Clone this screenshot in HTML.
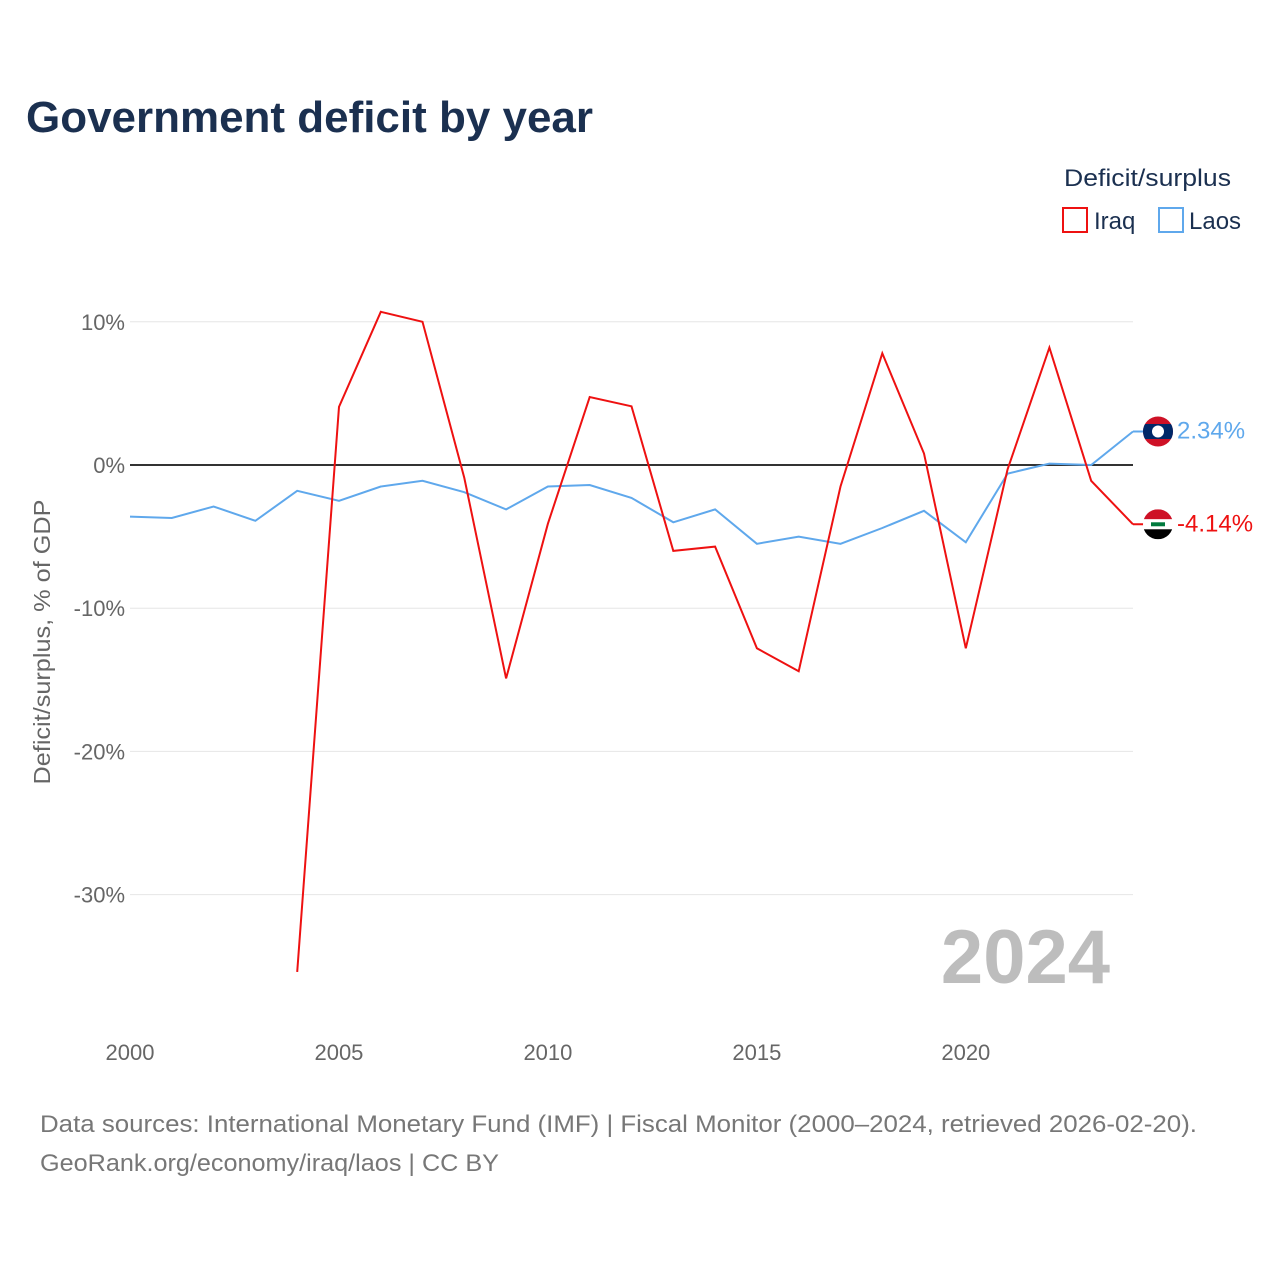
<!DOCTYPE html>
<html><head><meta charset="utf-8"><style>
html,body{margin:0;padding:0;background:#fff;width:1280px;height:1280px;overflow:hidden}
svg text{font-family:"Liberation Sans",sans-serif}
</style></head><body>
<svg width="1280" height="1280">
<text x="26" y="132" font-size="44" font-weight="bold" fill="#1b3050" textLength="567" lengthAdjust="spacingAndGlyphs">Government deficit by year</text>
<text x="1064" y="186" font-size="24" fill="#1b3050" textLength="167" lengthAdjust="spacingAndGlyphs">Deficit/surplus</text>
<g><rect x="1063" y="208" width="24" height="24" fill="none" stroke="#ee1111" stroke-width="2"/><text x="1094" y="229" font-size="24" fill="#1b3050">Iraq</text></g>
<g><rect x="1159" y="208" width="24" height="24" fill="none" stroke="#5fa8ec" stroke-width="2"/><text x="1189" y="229" font-size="24" fill="#1b3050">Laos</text></g>
<g id="grid"></g>
<text transform="translate(50,642) rotate(-90)" font-size="23" fill="#666" text-anchor="middle" textLength="285" lengthAdjust="spacingAndGlyphs">Deficit/surplus, % of GDP</text>
<text x="1110" y="983" font-size="76" font-weight="bold" fill="#bdbdbd" text-anchor="end">2024</text>
<g id="series"></g>
<text x="40" y="1132" font-size="24" fill="#777" textLength="1157" lengthAdjust="spacingAndGlyphs">Data sources: International Monetary Fund (IMF) | Fiscal Monitor (2000–2024, retrieved 2026-02-20).</text>
<text x="40" y="1171" font-size="24" fill="#777" textLength="459" lengthAdjust="spacingAndGlyphs">GeoRank.org/economy/iraq/laos | CC BY</text>
</svg>
<script>
const years=[2000,2001,2002,2003,2004,2005,2006,2007,2008,2009,2010,2011,2012,2013,2014,2015,2016,2017,2018,2019,2020,2021,2022,2023,2024];
const iraq=[null,null,null,null,-35.4,4.06,10.7,10.0,-0.9,-14.9,-4.1,4.75,4.1,-6.0,-5.7,-12.8,-14.4,-1.5,7.8,0.8,-12.8,-0.3,8.2,-1.1,-4.14];
const laos=[-3.6,-3.7,-2.9,-3.9,-1.8,-2.5,-1.5,-1.1,-1.9,-3.1,-1.5,-1.4,-2.3,-4.0,-3.1,-5.5,-5.0,-5.5,-4.4,-3.2,-5.4,-0.6,0.1,0.0,2.34];
const yTicks=[10,0,-10,-20,-30];
const xTicks=[2000,2005,2010,2015,2020];
const X=y=>130+(y-2000)*(1133-130)/24;
const Y=v=>465-v*14.32;
const NS="http://www.w3.org/2000/svg";
const g=document.getElementById('grid'),s=document.getElementById('series');
function mk(tag,at,par){const e=document.createElementNS(NS,tag);for(const k in at)e.setAttribute(k,at[k]);par.appendChild(e);return e;}
yTicks.forEach(t=>{
 const l=mk('line',{x1:130,x2:1133,y1:Y(t),y2:Y(t),stroke:t===0?'#333':'#e6e6e6','stroke-width':t===0?2:1},g);
 
 
 const tx=mk('text',{x:125,y:Y(t)+8,'font-size':22,fill:'#666','text-anchor':'end'},g);tx.textContent=t+'%';
 
 
});
xTicks.forEach(t=>{
 const tx=mk('text',{x:X(t),y:1060,'font-size':22,fill:'#666','text-anchor':'middle'},g);tx.textContent=t;
 
 
});
function line(vals,col,name){
 let d='';vals.forEach((v,i)=>{if(v===null)return;d+=(d?'L':'M')+X(years[i]).toFixed(1)+','+Y(v).toFixed(1);});
 const p=mk('path',{d:d,fill:'none',stroke:col,'stroke-width':2},s);
 
 
}
line(laos,'#5fa8ec','laos-line');
line(iraq,'#ee1111','iraq-line');
function end(vals,col,name,flag){
 const v=vals[vals.length-1],y=Y(v),x=X(2024);
 mk('line',{x1:x,x2:1158,y1:y,y2:y,stroke:col,'stroke-width':2},s);
 const fg=mk('g',{},s);
 
 
 const id='c'+name;
 const cp=mk('clipPath',{id:id},fg);mk('circle',{cx:1158,cy:y,r:15},cp);
 const c=mk('g',{'clip-path':'url(#'+id+')'},fg);
 if(flag==='laos'){mk('rect',{x:1143,y:y-15,width:30,height:30,fill:'#ce1126'},c);mk('rect',{x:1143,y:y-7.5,width:30,height:15,fill:'#002868'},c);mk('circle',{cx:1158,cy:y,r:6,fill:'#fff'},c);}
 else{mk('rect',{x:1143,y:y-15,width:30,height:10,fill:'#ce1126'},c);mk('rect',{x:1143,y:y-5,width:30,height:10,fill:'#fff'},c);mk('rect',{x:1143,y:y+5,width:30,height:10,fill:'#000'},c);mk('rect',{x:1151,y:y-2,width:14,height:4,fill:'#007a3d'},c);}
 const t=mk('text',{x:1177,y:y+7,'font-size':24,fill:col},s);t.textContent=v.toFixed(2)+'%';
 
 
}
end(laos,'#5fa8ec','laos','laos');
end(iraq,'#ee1111','iraq','iraq');
</script>
</body></html>
